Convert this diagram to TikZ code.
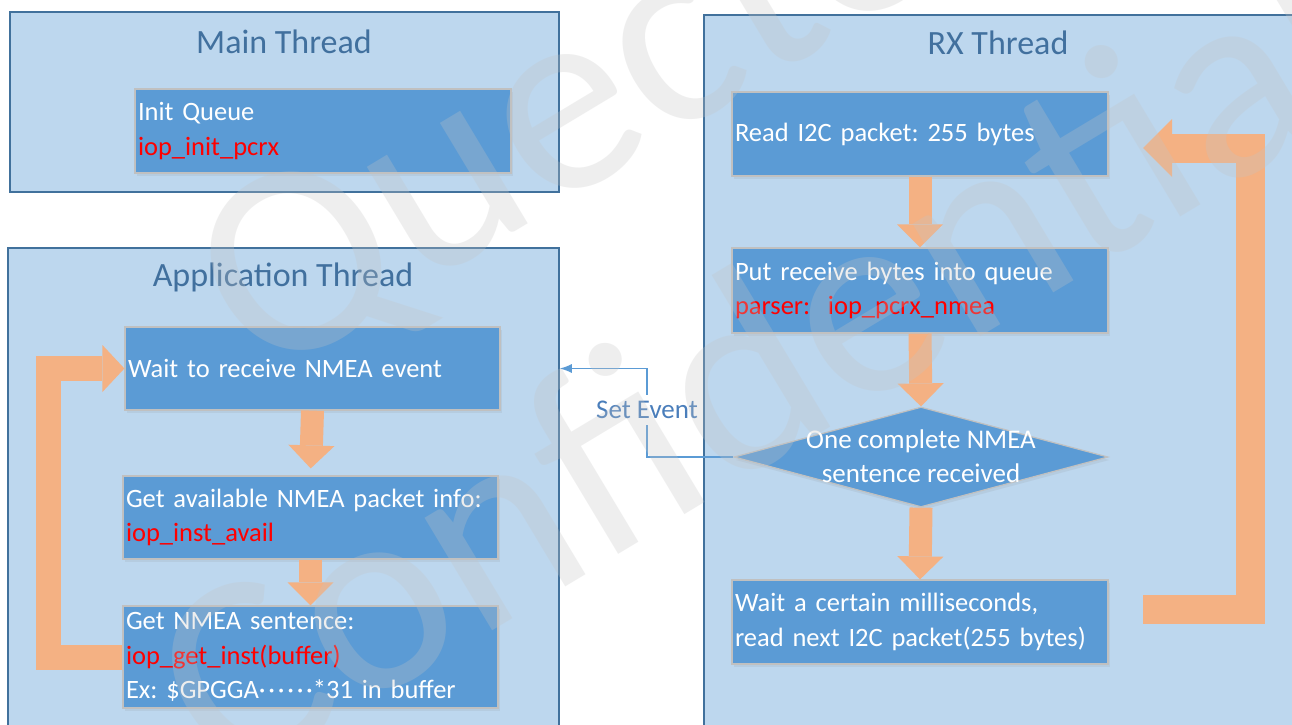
\documentclass[tikz,border=0pt]{standalone}
\usepackage{fontspec}
\setmainfont{Carlito}
\usetikzlibrary{shapes.geometric,arrows.meta,shadows,calc}
\definecolor{threadfill}{HTML}{BDD7EE}
\definecolor{threadline}{HTML}{41719C}
\definecolor{boxfill}{HTML}{5B9BD5}
\definecolor{boxline}{HTML}{C0C0C0}
\definecolor{flow}{HTML}{F4B183}
\definecolor{titlecol}{HTML}{41709E}
\definecolor{codered}{HTML}{FF0000}
\definecolor{conncol}{HTML}{5B9BD5}
\definecolor{setcol}{HTML}{4A7EBB}
\definecolor{wmcol}{HTML}{C4C4C4}
\newcommand\codetxt[1]{\textcolor{codered}{#1}}
\newcommand\middots{\makebox[54pt][s]{·\hfill·\hfill·\hfill·\hfill·\hfill·}}
\frenchspacing
\begin{document}
\begin{tikzpicture}[x=1pt,y=-1pt,
  thread/.style={draw=threadline, line width=1.5pt, fill=threadfill, inner sep=0pt},
  threadtitle/.style={text=titlecol, font=\fontsize{34}{40}\selectfont, inner sep=0pt},
  procbox/.style={draw=boxline, line width=1.2pt, fill=boxfill, text=white,
    inner xsep=3pt, inner ysep=0pt, align=left, font=\fontsize{26.5}{34.5}\selectfont,
    drop shadow={shadow xshift=1.5pt, shadow yshift=-3pt, opacity=.12}},
  decbox/.style={diamond, draw=boxline, line width=1.2pt, fill=boxfill, inner sep=0pt,
    drop shadow={shadow xshift=1.5pt, shadow yshift=-3pt, opacity=.12}},
  dectext/.style={text=white, align=center, font=\fontsize{27}{34}\selectfont, inner sep=0pt},
  downflow/.style={draw=flow, line width=23pt, -{Triangle[width=46pt,length=23pt,line width=0pt]}},
  loopleft/.style={draw=flow, line width=25pt, line join=miter, -{Triangle[width=47pt,length=22pt,line width=0pt]}},
  loopright/.style={draw=flow, line width=29pt, line join=miter, -{Triangle[width=58pt,length=29pt,line width=0pt]}},
  conn/.style={draw=conncol, line width=1.3pt},
  setlbl/.style={text=setcol, fill=white, font=\fontsize{27}{30}\selectfont, inner xsep=2pt, inner ysep=6pt},
  watermark/.style={text=wmcol, opacity=.28, align=center, font=\fontsize{275}{330}\selectfont, inner sep=0pt}
]
\useasboundingbox (0,0) rectangle (1292,724);
\fill[white] (0,0) rectangle (1292,724);
\clip (0,0) rectangle (1292,724);

% thread containers
\node[thread, minimum width=549pt, minimum height=180pt] (mainth) at (284.5,102) {};
\node[thread, minimum width=551pt, minimum height=512pt] (app) at (283.5,504) {};
\node[thread, minimum width=596pt, minimum height=745pt] (rx) at (1002,387.5) {};

\node[threadtitle] (mainttl) at (284,42) {Main Thread};
\node[threadtitle] (appttl) at (283,277) {Application Thread};
\node[threadtitle] (rxttl) at (998,43) {RX Thread};

% main thread
\node[procbox, minimum width=376pt, minimum height=84pt, text width=370pt] (init) at (323,131)
  {Init Queue\\\codetxt{iop\_init\_pcrx}};

% application thread
\node[procbox, minimum width=375pt, minimum height=83pt, text width=369pt] (wait) at (312.5,368.5)
  {Wait to receive NMEA event};
\node[procbox, minimum width=375pt, minimum height=83pt, text width=369pt] (avail) at (310.5,517.5)
  {Get available NMEA packet info:\\\codetxt{iop\_inst\_avail}};
\node[procbox, minimum width=375pt, minimum height=102pt, text width=369pt] (sent) at (310.5,657)
  {Get NMEA sentence:\\\codetxt{iop\_get\_inst(buffer)}\\Ex: \$GPGGA\middots*31 in buffer};

% rx thread
\node[procbox, minimum width=376pt, minimum height=84pt, text width=370pt] (read) at (920,134)
  {Read I2C packet: 255 bytes};
\node[procbox, minimum width=376pt, minimum height=85pt, text width=370pt] (put) at (920,290.5)
  {Put receive bytes into queue\\\codetxt{parser:\ \ iop\_pcrx\_nmea}};
\node[decbox, minimum width=374pt, minimum height=100pt] (dec) at (921,457) {};
\node[dectext] (dectxt) at (921,456) {One complete NMEA\\sentence received};
\node[procbox, minimum width=376pt, minimum height=84pt, text width=370pt] (wms) at (920,622)
  {Wait a certain milliseconds,\\read next I2C packet(255 bytes)};

% flow arrows
\draw[downflow, shorten >=7pt] (wait.south) -- (avail.north);
\draw[downflow] (avail.south) -- (sent.north);
\draw[downflow] (read.south) -- (put.north);
\draw[downflow] (put.south) -- (dec.north);
\draw[downflow] (dec.south) -- (wms.north);

\draw[loopleft] (sent.west) -- ++(-73.5,0) |- (wait.west);

\coordinate (rlstart) at (1143,609.5);
\coordinate (rlcorner) at (1250.5,609.5);
\coordinate (rlend) at (1143,148);
\draw[loopright] (rlstart) -- (rlcorner) |- (rlend);

% set event connector
\coordinate (sevt) at (647,410);
\draw[conn, -{Latex[length=12pt,width=9pt]}] (dec.west) -| (sevt) |- (wait.west -| app.east);
\node[setlbl] (setlabel) at (sevt) {Set Event};

% watermark
\node[watermark, rotate=31] (wm) at (672,220) {Quectel\\Confidential};
\end{tikzpicture}
\end{document}
